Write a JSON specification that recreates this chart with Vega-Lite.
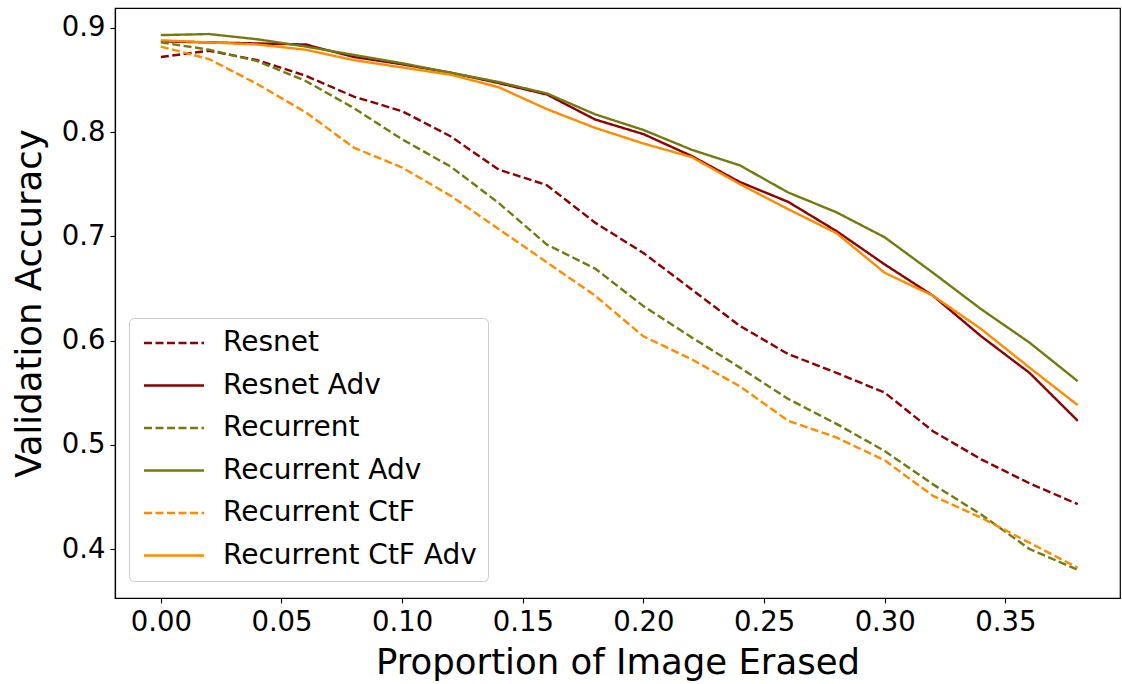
{
  "$schema": "https://vega.github.io/schema/vega-lite/v6.json",
  "autosize": {"type": "none"},
  "padding": {"left": 115, "top": 8, "right": 2, "bottom": 86},
  "width": 1005,
  "height": 590,
  "background": "white",
  "config": {
    "font": "DejaVu Sans",
    "view": {"stroke": "black", "strokeWidth": 1.2},
    "axis": {
      "grid": false,
      "domainColor": "black",
      "domainWidth": 1.2,
      "tickColor": "black",
      "tickWidth": 1.1,
      "tickSize": 5,
      "labelFont": "DejaVu Sans",
      "labelFontSize": 27.5,
      "labelColor": "black",
      "titleFont": "DejaVu Sans",
      "titleFontSize": 35.5,
      "titleFontWeight": "normal",
      "titleColor": "black"
    }
  },
  "data": {
    "values": [
      {"p": 0.00, "Resnet": 0.872, "Resnet Adv": 0.887, "Recurrent": 0.886, "Recurrent Adv": 0.893, "Recurrent CtF": 0.882, "Recurrent CtF Adv": 0.888},
      {"p": 0.02, "Resnet": 0.878, "Resnet Adv": 0.886, "Recurrent": 0.879, "Recurrent Adv": 0.894, "Recurrent CtF": 0.870, "Recurrent CtF Adv": 0.886},
      {"p": 0.04, "Resnet": 0.869, "Resnet Adv": 0.885, "Recurrent": 0.868, "Recurrent Adv": 0.889, "Recurrent CtF": 0.846, "Recurrent CtF Adv": 0.884},
      {"p": 0.06, "Resnet": 0.854, "Resnet Adv": 0.884, "Recurrent": 0.849, "Recurrent Adv": 0.882, "Recurrent CtF": 0.819, "Recurrent CtF Adv": 0.879},
      {"p": 0.08, "Resnet": 0.834, "Resnet Adv": 0.872, "Recurrent": 0.823, "Recurrent Adv": 0.874, "Recurrent CtF": 0.785, "Recurrent CtF Adv": 0.869},
      {"p": 0.10, "Resnet": 0.820, "Resnet Adv": 0.865, "Recurrent": 0.793, "Recurrent Adv": 0.866, "Recurrent CtF": 0.766, "Recurrent CtF Adv": 0.862},
      {"p": 0.12, "Resnet": 0.796, "Resnet Adv": 0.857, "Recurrent": 0.767, "Recurrent Adv": 0.857, "Recurrent CtF": 0.739, "Recurrent CtF Adv": 0.855},
      {"p": 0.14, "Resnet": 0.764, "Resnet Adv": 0.847, "Recurrent": 0.732, "Recurrent Adv": 0.848, "Recurrent CtF": 0.707, "Recurrent CtF Adv": 0.843},
      {"p": 0.16, "Resnet": 0.749, "Resnet Adv": 0.836, "Recurrent": 0.692, "Recurrent Adv": 0.837, "Recurrent CtF": 0.675, "Recurrent CtF Adv": 0.822},
      {"p": 0.18, "Resnet": 0.713, "Resnet Adv": 0.812, "Recurrent": 0.669, "Recurrent Adv": 0.817, "Recurrent CtF": 0.643, "Recurrent CtF Adv": 0.804},
      {"p": 0.20, "Resnet": 0.684, "Resnet Adv": 0.798, "Recurrent": 0.633, "Recurrent Adv": 0.802, "Recurrent CtF": 0.604, "Recurrent CtF Adv": 0.789},
      {"p": 0.22, "Resnet": 0.649, "Resnet Adv": 0.777, "Recurrent": 0.603, "Recurrent Adv": 0.783, "Recurrent CtF": 0.582, "Recurrent CtF Adv": 0.776},
      {"p": 0.24, "Resnet": 0.614, "Resnet Adv": 0.752, "Recurrent": 0.574, "Recurrent Adv": 0.768, "Recurrent CtF": 0.556, "Recurrent CtF Adv": 0.750},
      {"p": 0.26, "Resnet": 0.587, "Resnet Adv": 0.733, "Recurrent": 0.544, "Recurrent Adv": 0.742, "Recurrent CtF": 0.523, "Recurrent CtF Adv": 0.726},
      {"p": 0.28, "Resnet": 0.569, "Resnet Adv": 0.705, "Recurrent": 0.520, "Recurrent Adv": 0.723, "Recurrent CtF": 0.507, "Recurrent CtF Adv": 0.703},
      {"p": 0.30, "Resnet": 0.550, "Resnet Adv": 0.673, "Recurrent": 0.494, "Recurrent Adv": 0.699, "Recurrent CtF": 0.485, "Recurrent CtF Adv": 0.665},
      {"p": 0.32, "Resnet": 0.513, "Resnet Adv": 0.643, "Recurrent": 0.462, "Recurrent Adv": 0.665, "Recurrent CtF": 0.451, "Recurrent CtF Adv": 0.643},
      {"p": 0.34, "Resnet": 0.486, "Resnet Adv": 0.604, "Recurrent": 0.433, "Recurrent Adv": 0.630, "Recurrent CtF": 0.430, "Recurrent CtF Adv": 0.611},
      {"p": 0.36, "Resnet": 0.463, "Resnet Adv": 0.569, "Recurrent": 0.400, "Recurrent Adv": 0.598, "Recurrent CtF": 0.406, "Recurrent CtF Adv": 0.574},
      {"p": 0.38, "Resnet": 0.443, "Resnet Adv": 0.523, "Recurrent": 0.380, "Recurrent Adv": 0.561, "Recurrent CtF": 0.382, "Recurrent CtF Adv": 0.538}
    ]
  },
  "transform": [
    {"fold": ["Resnet", "Resnet Adv", "Recurrent", "Recurrent Adv", "Recurrent CtF", "Recurrent CtF Adv"], "as": ["series", "acc"]}
  ],
  "mark": {"type": "line", "strokeWidth": 2.4, "clip": true},
  "encoding": {
    "x": {
      "field": "p",
      "type": "quantitative",
      "scale": {"domain": [-0.019, 0.3975], "nice": false, "zero": false},
      "axis": {"values": [0, 0.05, 0.1, 0.15, 0.2, 0.25, 0.3, 0.35], "format": ".2f", "title": "Proportion of Image Erased", "labelPadding": 5, "titlePadding": 10, "labelFlush": false}
    },
    "y": {
      "field": "acc",
      "type": "quantitative",
      "scale": {"domain": [0.353, 0.919], "nice": false, "zero": false},
      "axis": {"values": [0.4, 0.5, 0.6, 0.7, 0.8, 0.9], "format": ".1f", "title": "Validation Accuracy", "labelPadding": 5, "titlePadding": 14, "labelFlush": false}
    },
    "color": {
      "field": "series",
      "type": "nominal",
      "scale": {
        "domain": ["Resnet", "Resnet Adv", "Recurrent", "Recurrent Adv", "Recurrent CtF", "Recurrent CtF Adv"],
        "range": ["#8b0000", "#8b0000", "#747a12", "#747a12", "#ff8c00", "#ff8c00"]
      },
      "legend": {
        "title": null,
        "orient": "none",
        "legendX": 14,
        "legendY": 310,
        "symbolType": "M-1,0H5",
        "symbolSize": 400,
        "symbolStrokeWidth": 2.4,
        "labelFontSize": 28,
        "labelFont": "DejaVu Sans",
        "labelColor": "black",
        "labelOffset": 55,
        "rowPadding": 14.5,
        "padding": 11,
        "strokeColor": "#cccccc",
        "fillColor": "rgba(255,255,255,0.8)",
        "cornerRadius": 5,
        "labelLimit": 500
      }
    },
    "strokeDash": {
      "field": "series",
      "type": "nominal",
      "scale": {
        "domain": ["Resnet", "Resnet Adv", "Recurrent", "Recurrent Adv", "Recurrent CtF", "Recurrent CtF Adv"],
        "range": [[8, 3.5], [1, 0], [8, 3.5], [1, 0], [8, 3.5], [1, 0]]
      },
      "legend": {"title": null}
    }
  }
}
